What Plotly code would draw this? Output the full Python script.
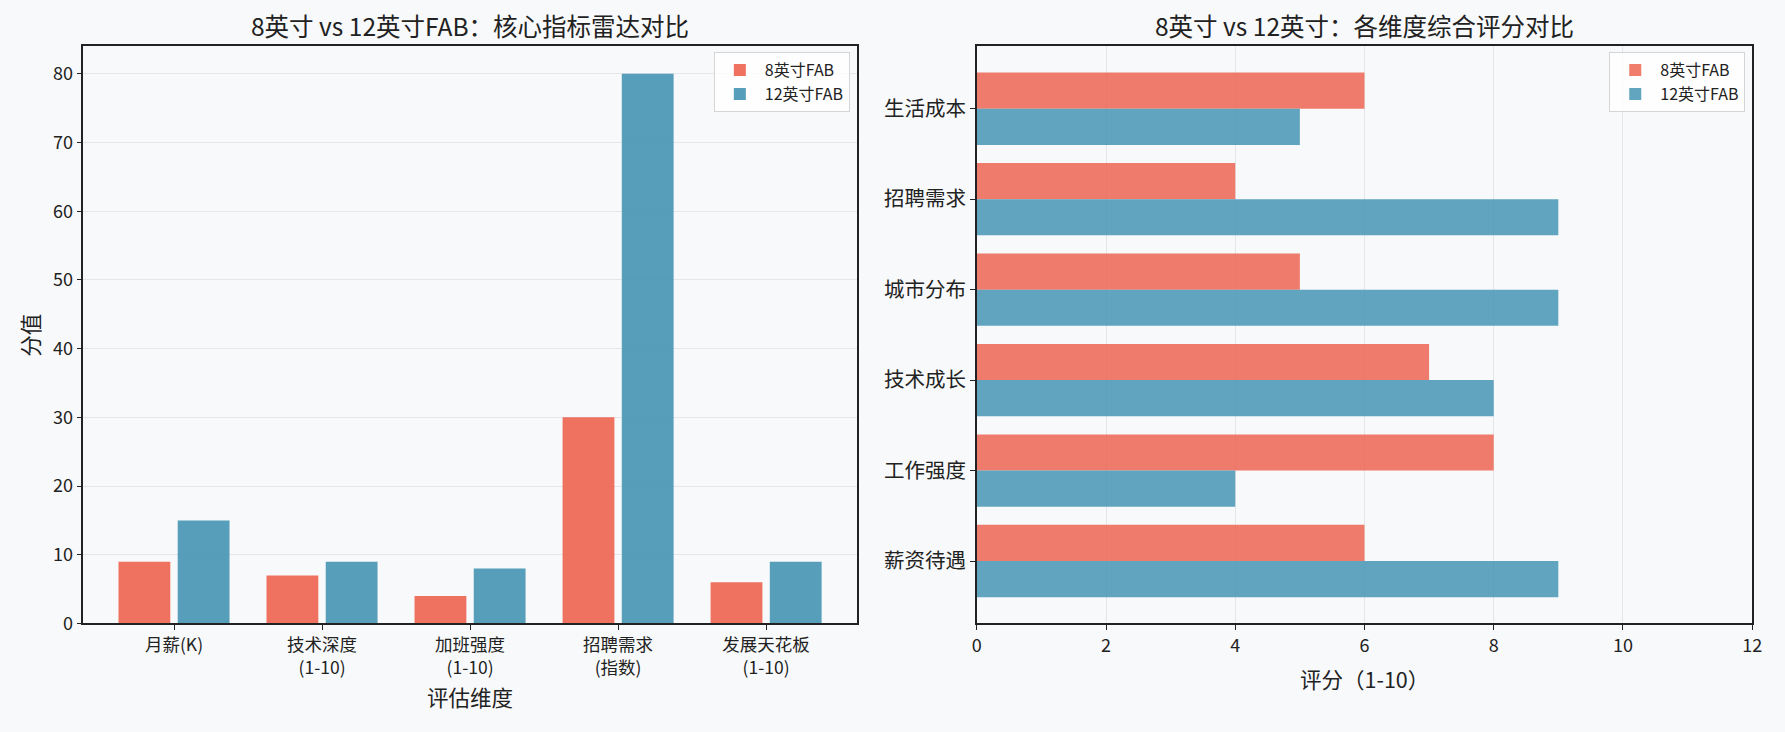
import plotly.graph_objects as go

# left chart: core indicators
metrics = ['月薪(K)', '技术深度<br>(1-10)', '加班强度<br>(1-10)', '招聘需求<br>(指数)', '发展天花板<br>(1-10)']
fab8_metrics = [9, 7, 4, 30, 6]
fab12_metrics = [15, 9, 8, 80, 9]

# right chart: dimension scores
dims = ['薪资待遇', '工作强度', '技术成长', '城市分布', '招聘需求', '生活成本']
fab8_scores = [6, 8, 7, 5, 4, 6]
fab12_scores = [9, 4, 8, 9, 9, 5]

series_names = ['8英寸FAB', '12英寸FAB']

FONT = 'Noto Sans CJK SC'
BG = '#F8F9FA'
RED_L = 'rgba(237,99,80,0.9)'
BLUE_L = 'rgba(68,148,179,0.9)'
RED_R = 'rgba(237,99,80,0.84)'
BLUE_R = 'rgba(68,148,179,0.84)'
W, H = 1785, 732

fig = go.Figure()

xs = list(range(len(metrics)))
fig.add_trace(go.Bar(x=xs, y=fab8_metrics, name=series_names[0], marker_color=RED_L,
                     marker_line_width=0, offset=-0.375, width=0.35,
                     xaxis='x', yaxis='y', legend='legend'))
fig.add_trace(go.Bar(x=xs, y=fab12_metrics, name=series_names[1], marker_color=BLUE_L,
                     marker_line_width=0, offset=0.025, width=0.35,
                     xaxis='x', yaxis='y', legend='legend'))

ys = list(range(len(dims)))
fig.add_trace(go.Bar(y=ys, x=fab8_scores, name=series_names[0], orientation='h',
                     marker_color=RED_R, marker_line_width=0, offset=0, width=0.4,
                     xaxis='x2', yaxis='y2', legend='legend2'))
fig.add_trace(go.Bar(y=ys, x=fab12_scores, name=series_names[1], orientation='h',
                     marker_color=BLUE_R, marker_line_width=0, offset=-0.4, width=0.4,
                     xaxis='x2', yaxis='y2', legend='legend2'))

def px_x(p):
    return p / W

def px_y(p):
    return 1 - p / H

def label(text, x, y, size, angle=0):
    return dict(text=text, x=px_x(x), y=px_y(y), xref='paper', yref='paper',
                xanchor='center', yanchor='middle', showarrow=False,
                textangle=angle, font=dict(size=size))

axis_common = dict(showline=True, linecolor='#222222', linewidth=1.5, mirror=True,
                   ticks='outside', ticklen=5, tickcolor='#222222', tickwidth=1.2,
                   zeroline=False, color='#222222')

legend_style = dict(xanchor='right', yanchor='top', bgcolor='rgba(255,255,255,0.8)',
                    bordercolor='#D5D5D5', borderwidth=1, font=dict(size=16),
                    traceorder='normal', itemwidth=40)

fig.update_layout(
    width=W, height=H,
    paper_bgcolor=BG, plot_bgcolor=BG,
    margin=dict(l=0, r=0, t=0, b=0),
    barmode='overlay',
    font=dict(family=FONT, color='#222222', size=17),
    xaxis=dict(domain=[px_x(79), px_x(859)], anchor='y', range=[-0.6125, 4.6125],
               tickvals=xs, ticktext=metrics, tickfont=dict(size=17.5),
               showgrid=False, **axis_common),
    yaxis=dict(domain=[px_y(633), px_y(47)], anchor='x', range=[0, 84],
               tickvals=list(range(0, 81, 10)), tickfont=dict(size=18),
               showgrid=True, gridcolor='#E4E6E9', gridwidth=1, **axis_common),
    xaxis2=dict(domain=[px_x(980), px_x(1762)], anchor='y2', range=[0, 12],
                tickvals=list(range(0, 13, 2)), tickfont=dict(size=18),
                showgrid=True, gridcolor='#E4E6E9', gridwidth=1, **axis_common),
    yaxis2=dict(domain=[px_y(633), px_y(47)], anchor='x2', range=[-0.69, 5.69],
                tickvals=ys, ticktext=dims, tickfont=dict(size=20.5),
                showgrid=False, **axis_common),
    legend=dict(x=px_x(852), y=px_y(53), **legend_style),
    legend2=dict(x=px_x(1755), y=px_y(53), **legend_style),
    annotations=[
        label('8英寸 vs 12英寸FAB：核心指标雷达对比', 469, 26, 24.5),
        label('8英寸 vs 12英寸：各维度综合评分对比', 1371, 26, 24.5),
        label('评估维度', 469, 707, 21.5),
        label('分值', 25, 340, 21.5, -90),
        label('评分（1-10）', 1371, 689, 21.5),
    ],
)

# no page margin / scrollbars so the figure sits at the window's top-left
fig.write_html('out.html', config={'displayModeBar': False},
               post_script="document.documentElement.style.overflow='hidden';"
                           "document.body.style.margin='0';"
                           "document.body.style.overflow='hidden';"
                           "document.body.style.background='#F8F9FA';")
